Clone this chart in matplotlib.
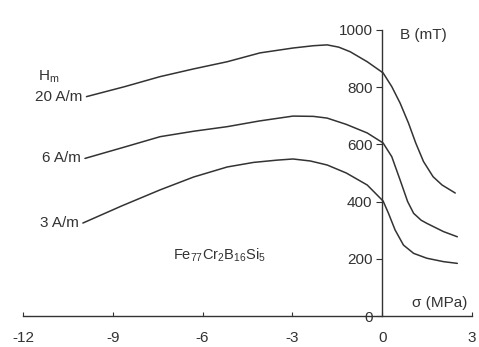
import numpy as np
import matplotlib.pyplot as plt

plt.rcParams['font.family'] = ['Liberation Sans', 'DejaVu Sans']

# stress sigma (MPa) and induction B (mT) for each field amplitude Hm
sig_20 = [-9.88, -8.6, -7.42, -6.3, -5.18, -4.08, -2.98, -2.3, -1.84, -1.45,
          -1.07, -0.5, 0.03, 0.32, 0.6, 0.88, 1.12, 1.38, 1.7, 2.0, 2.44]
B_20 = [767, 802, 837, 864, 889, 920, 937, 945, 948, 940,
        924, 889, 850, 802, 744, 674, 605, 540, 487, 458, 430]

sig_6 = [-9.93, -8.6, -7.42, -6.3, -5.18, -4.1, -2.98, -2.3, -1.84, -1.2,
         -0.5, 0.03, 0.32, 0.6, 0.85, 1.05, 1.3, 1.49, 2.05, 2.51]
B_6 = [551, 591, 627, 646, 662, 682, 699, 698, 692, 670,
       640, 605, 557, 475, 400, 359, 335, 324, 295, 277]

sig_3 = [-10.0, -8.7, -7.42, -6.3, -5.18, -4.3, -3.51, -2.98, -2.4, -1.84,
         -1.2, -0.5, 0.03, 0.21, 0.43, 0.71, 1.05, 1.49, 2.05, 2.51]
B_3 = [325, 385, 441, 486, 521, 537, 545, 549, 542, 528,
       500, 458, 402, 359, 301, 248, 219, 202, 190, 184]

curves = [(sig_20, B_20, '20 A/m'), (sig_6, B_6, '6 A/m'), (sig_3, B_3, '3 A/m')]

x_ticks = [-12, -9, -6, -3, 0, 3]
y_ticks = [0, 200, 400, 600, 800, 1000]

fig = plt.figure(figsize=(4.79, 3.47), dpi=100)
ax = fig.add_axes([23 / 479, 31 / 347, 449 / 479, 286 / 347])

ink = '#333333'
for s, b, lab in curves:
    ax.plot(s, b, color=ink, lw=1.1, solid_capstyle='round', solid_joinstyle='round')
    ax.text(s[0] - 0.15, b[0], lab, ha='right', va='center', fontsize=11, color=ink)

ax.text(-11.5, 836, r'H$_{\mathregular{m}}$', ha='left', va='center', fontsize=11, color=ink)
ax.text(-7.0, 213, r'Fe$_{\mathregular{77}}$Cr$_{\mathregular{2}}$B$_{\mathregular{16}}$Si$_{\mathregular{5}}$',
        ha='left', va='center', fontsize=10.5, color=ink)
ax.text(0.6, 982, 'B (mT)', ha='left', va='center', fontsize=11, color=ink)
ax.text(1.0, 45, 'σ (MPa)', ha='left', va='center', fontsize=11, color=ink)

ax.set_xlim(-12, 3)
ax.set_ylim(0, 1000)
ax.spines['left'].set_position(('data', 0))
ax.spines['top'].set_visible(False)
ax.spines['right'].set_visible(False)
for sp in ('left', 'bottom'):
    ax.spines[sp].set_color(ink)
    ax.spines[sp].set_linewidth(1.0)

ax.set_xticks(x_ticks)
ax.set_xticklabels([str(t) for t in x_ticks])
ax.set_yticks(y_ticks)
ax.tick_params(axis='x', direction='in', length=3, pad=11, labelsize=11, colors=ink)
ax.tick_params(axis='y', direction='out', length=4, pad=3, labelsize=11, colors=ink)
ax.patch.set_visible(False)

fig.savefig('out.png', dpi=100)
